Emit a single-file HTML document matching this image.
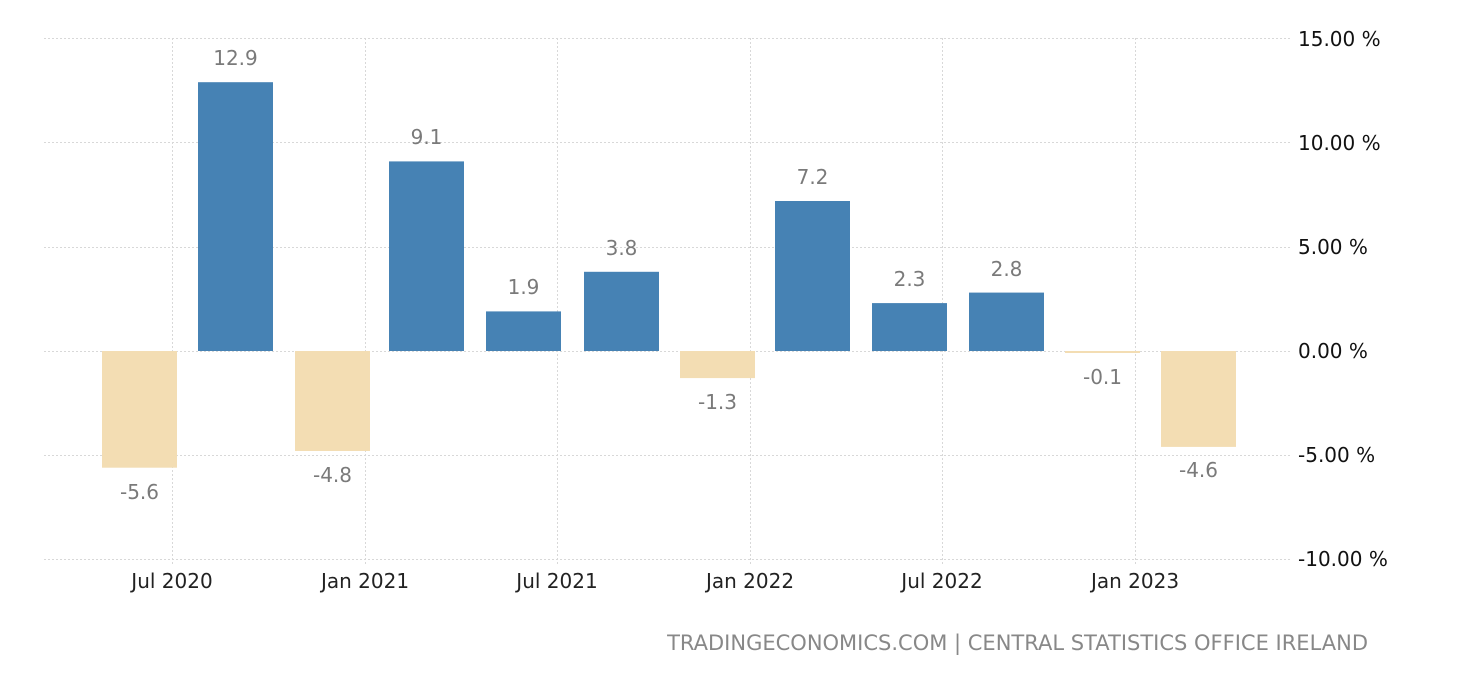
<!DOCTYPE html>
<html><head><meta charset="utf-8"><style>
html,body{margin:0;padding:0;background:#fff;}
svg{display:block;font-family:"DejaVu Sans","Liberation Sans",sans-serif;}
</style></head><body>
<svg width="1460" height="680" xmlns="http://www.w3.org/2000/svg">
<g stroke="#d8d8d8" stroke-width="1" stroke-dasharray="2,2">
<line x1="44" y1="38.5" x2="1290" y2="38.5"/>
<line x1="44" y1="142.5" x2="1290" y2="142.5"/>
<line x1="44" y1="247.5" x2="1290" y2="247.5"/>
<line x1="44" y1="351.5" x2="1290" y2="351.5"/>
<line x1="44" y1="455.5" x2="1290" y2="455.5"/>
<line x1="44" y1="559.5" x2="1290" y2="559.5"/>
<line x1="172.5" y1="38" x2="172.5" y2="565"/>
<line x1="365.5" y1="38" x2="365.5" y2="565"/>
<line x1="557.5" y1="38" x2="557.5" y2="565"/>
<line x1="750.5" y1="38" x2="750.5" y2="565"/>
<line x1="942.5" y1="38" x2="942.5" y2="565"/>
<line x1="1135.5" y1="38" x2="1135.5" y2="565"/>
</g>
<g>
<rect x="102" y="351" width="75" height="116.7" fill="#f3ddb3"/>
<rect x="198" y="82.2" width="75" height="268.8" fill="#4682b4"/>
<rect x="295" y="351" width="75" height="100" fill="#f3ddb3"/>
<rect x="389" y="161.4" width="75" height="189.6" fill="#4682b4"/>
<rect x="486" y="311.4" width="75" height="39.6" fill="#4682b4"/>
<rect x="584" y="271.8" width="75" height="79.2" fill="#4682b4"/>
<rect x="680" y="351" width="75" height="27.1" fill="#f3ddb3"/>
<rect x="775" y="201" width="75" height="150" fill="#4682b4"/>
<rect x="872" y="303.1" width="75" height="47.9" fill="#4682b4"/>
<rect x="969" y="292.6" width="75" height="58.4" fill="#4682b4"/>
<rect x="1065" y="351" width="75" height="2" fill="#f3ddb3"/>
<rect x="1161" y="351" width="75" height="95.9" fill="#f3ddb3"/>
</g>
<g fill="#7a7a7a" font-size="20" text-anchor="middle">
<text x="139.5" y="499">-5.6</text>
<text x="235.5" y="65">12.9</text>
<text x="332.5" y="482">-4.8</text>
<text x="426.5" y="144">9.1</text>
<text x="523.5" y="294">1.9</text>
<text x="621.5" y="255">3.8</text>
<text x="717.5" y="409">-1.3</text>
<text x="812.5" y="184">7.2</text>
<text x="909.5" y="286">2.3</text>
<text x="1006.5" y="276">2.8</text>
<text x="1102.5" y="384">-0.1</text>
<text x="1198.5" y="477">-4.6</text>
</g>
<g fill="#111" font-size="20">
<text x="1298" y="46">15.00 %</text>
<text x="1298" y="150">10.00 %</text>
<text x="1298" y="254">5.00 %</text>
<text x="1298" y="358">0.00 %</text>
<text x="1298" y="462">-5.00 %</text>
<text x="1298" y="566">-10.00 %</text>
</g>
<g fill="#222" font-size="20" text-anchor="middle">
<text x="172" y="588">Jul 2020</text>
<text x="365" y="588">Jan 2021</text>
<text x="557" y="588">Jul 2021</text>
<text x="750" y="588">Jan 2022</text>
<text x="942" y="588">Jul 2022</text>
<text x="1135" y="588">Jan 2023</text>
</g>
<text x="1368" y="650" fill="#888" font-size="21" text-anchor="end">TRADINGECONOMICS.COM | CENTRAL STATISTICS OFFICE IRELAND</text>
</svg>
</body></html>
